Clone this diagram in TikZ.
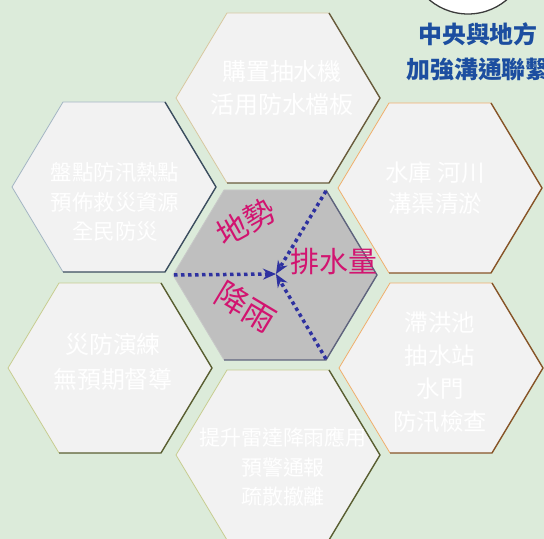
\documentclass[tikz,border=0pt]{standalone}
\usepackage{fontspec}
\usetikzlibrary{arrows.meta}
\newfontfamily\cjk{Noto Sans CJK TC}
\definecolor{bggreen}{RGB}{220,235,218}
\definecolor{hexgray}{RGB}{242,242,242}
\definecolor{midgray}{RGB}{191,191,191}
\definecolor{rosered}{RGB}{210,20,112}
\definecolor{arrowblue}{RGB}{46,49,160}
\definecolor{titleblue}{RGB}{28,78,160}
\definecolor{ringgray}{RGB}{60,60,60}
\definecolor{tanlight}{RGB}{216,200,160}
\definecolor{tandark}{RGB}{105,92,60}
\definecolor{slatelight}{RGB}{165,182,196}
\definecolor{slatedark}{RGB}{60,78,95}
\definecolor{orangelight}{RGB}{240,175,110}
\definecolor{orangedark}{RGB}{135,85,40}
\definecolor{olivelight}{RGB}{200,205,145}
\definecolor{olivedark}{RGB}{90,95,50}
\definecolor{graylight}{RGB}{200,200,200}
\definecolor{graydark}{RGB}{95,100,125}
\newcommand\hexcell[4]{%
    \begin{scope}[shift={#1}]
        \fill[#2] (-51,-85) -- (51,-85) -- (102,0) -- (51,85) -- (-51,85) -- (-102,0) -- cycle;
        \draw[#3, line width=.8pt] (-51,85) -- (-102,0) -- (-51,-85) -- (51,-85);
        \draw[#4, line width=1.4pt, line join=round] (51,-85) -- (102,0) -- (51,85) -- (-51,85);
    \end{scope}}

\begin{document}
\begin{tikzpicture}[x=1bp, y=-1bp,
    hextext/.style 2 args={text=white, align=center, inner sep=0pt, font=\cjk\fontsize{#1}{#2}\selectfont},
    keyword/.style={text=rosered, inner sep=0pt, font=\cjk\fontsize{#1}{#1}\selectfont},
    flow/.style={arrowblue, line width=3.5bp, dash pattern=on 3.5bp off 3.5bp, -{Stealth[length=13bp, width=11bp]}}]
    % Фон
    \fill[bggreen] (0,0) rectangle (544,539);
    \useasboundingbox (0,0) rectangle (544,539);
    \draw[fill=white, draw=ringgray, line width=1.3pt] (468,-46) circle[radius=60];

    % Шестиугольники
    \hexcell{(278,98)}{hexgray}{tanlight}{tandark}
    \hexcell{(114,187)}{hexgray}{slatelight}{slatedark}
    \hexcell{(440,188)}{hexgray}{orangelight}{orangedark}
    \hexcell{(110,368)}{hexgray}{olivelight}{olivedark}
    \hexcell{(441,368)}{hexgray}{orangelight}{orangedark}
    \hexcell{(278,455)}{hexgray}{olivelight}{olivedark}
    \hexcell{(275,275)}{midgray}{graylight}{graydark}

    % Подписи в ячейках
    \node[hextext={24}{33}] (pumps) at (282,88) {購置抽水機\\活用防水檔板};
    \node[hextext={21.5}{30}] (hotspots) at (115,202) {盤點防汛熱點\\預佈救災資源\\全民防災};
    \node[hextext={23.5}{31}] (rivers) at (435,188) {水庫 河川\\溝渠清淤};
    \node[hextext={24}{35}] (drills) at (113,362) {災防演練\\無預期督導};
    \node[hextext={23.5}{33}] (stations) at (440,372) {滯洪池\\抽水站\\水門\\防汛檢查};
    \node[hextext={21}{30}] (radar) at (283,467) {提升雷達降雨應用\\預警通報\\疏散撤離};

    % Центр
    \coordinate (hub) at (276,274);
    \coordinate (west) at (174,275);
    \coordinate (northeast) at (326,191);
    \coordinate (southeast) at (326,359);
    \draw[flow] (west) -- (hub);
    \draw[flow] (northeast) -- (hub);
    \draw[flow] (southeast) -- (hub);
    \node[keyword=31, rotate=29] (terrain) at (246,222) {地勢};
    \node[keyword=32, rotate=-31] (rain) at (246,307) {降雨};
    \node[keyword=29] (drain) at (334,262) {排水量};

    % Заголовок
    \node[text=titleblue, align=center, font=\cjk\bfseries\fontsize{24}{35}\selectfont] (central) at (478,52) {中央與地方\\加強溝通聯繫};
\end{tikzpicture}
\end{document}
